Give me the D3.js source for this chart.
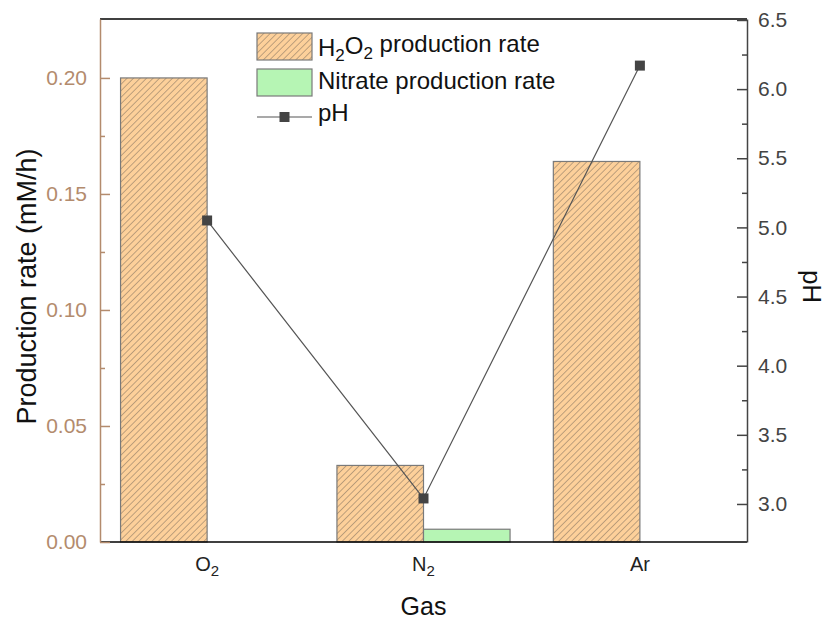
<!DOCTYPE html>
<html>
<head>
<meta charset="utf-8">
<script src="https://cdn.jsdelivr.net/npm/d3@7"></script>
<style>
  body { margin: 0; background: #fff; }
  text { font-family: Arial, "Liberation Sans", sans-serif; }
</style>
</head>
<body>
<div id="chart"></div>
<script>
// Data
const gases = ["O2", "N2", "Ar"];
const h2o2Rate = [0.200, 0.033, 0.164];
const nitrateRate = [0, 0.0055, 0];
const pHValues = [5.05, 3.04, 6.17];
const leftTicks = [0.00, 0.05, 0.10, 0.15, 0.20];
const rightTicks = [3.0, 3.5, 4.0, 4.5, 5.0, 5.5, 6.0, 6.5];
const seriesKeys = ["h2o2", "nitrate"];

// Dimensions
const W = 826, H = 621;
const margin = { top: 19, right: 79, bottom: 79, left: 100 };
const innerW = W - margin.left - margin.right;
const innerH = H - margin.top - margin.bottom;

const tan = "#b38b6d";
const darkGray = "#444";

const svg = d3.select("#chart").append("svg")
    .attr("width", W)
    .attr("height", H);

// hatch pattern for H2O2 bars
const defs = svg.append("defs");
const pat = defs.append("pattern")
    .attr("id", "hatch")
    .attr("patternUnits", "userSpaceOnUse")
    .attr("width", 4.6)
    .attr("height", 4.6)
    .attr("patternTransform", "rotate(45)");
pat.append("rect").attr("width", 4.6).attr("height", 4.6).attr("fill", "#fdd09a");
pat.append("line")
    .attr("x1", 0).attr("y1", 0).attr("x2", 0).attr("y2", 4.6)
    .attr("stroke", "#8a7862").attr("stroke-width", 1.1);

const g = svg.append("g")
    .attr("transform", `translate(${margin.left},${margin.top})`);

// Scales
const x = d3.scaleBand()
    .domain(gases)
    .range([0, innerW])
    .paddingInner(0.2)
    .paddingOuter(0.095);

const xSub = d3.scaleBand()
    .domain(seriesKeys)
    .range([0, x.bandwidth()]);

const yLeft = d3.scaleLinear()
    .domain([0, 0.2254])
    .range([innerH, 0]);

const yRight = d3.scaleLinear()
    .domain([2.725, 6.507])
    .range([innerH, 0]);

// Bars
const rows = gases.map((gas, i) => ({ gas, h2o2: h2o2Rate[i], nitrate: nitrateRate[i] }));
const fills = { h2o2: "url(#hatch)", nitrate: "#b6f5b4" };

g.selectAll(".grp")
    .data(rows)
    .enter().append("g")
    .attr("transform", d => `translate(${x(d.gas)},0)`)
    .selectAll("rect")
    .data(d => seriesKeys.map(k => ({ key: k, value: d[k] })))
    .enter().append("rect")
    .attr("x", d => xSub(d.key))
    .attr("y", d => yLeft(d.value))
    .attr("width", xSub.bandwidth())
    .attr("height", d => innerH - yLeft(d.value))
    .attr("fill", d => fills[d.key])
    .attr("stroke", "#7a7a7a")
    .attr("stroke-width", 1.2);

// Frame: top and bottom lines
g.append("line")
    .attr("x1", 0).attr("x2", innerW).attr("y1", 0).attr("y2", 0)
    .attr("stroke", "#000").attr("stroke-width", 1.5);
g.append("line")
    .attr("x1", 0).attr("x2", innerW).attr("y1", innerH).attr("y2", innerH)
    .attr("stroke", "#000").attr("stroke-width", 1.5);

// Left axis (minor ticks first)
const leftMinor = leftTicks.slice(0, -1).map(t => t + 0.025);
g.append("g")
    .call(d3.axisLeft(yLeft).tickValues(leftMinor).tickSize(-5).tickFormat(""))
    .call(a => a.select(".domain").remove())
    .selectAll("line").attr("stroke", tan).attr("stroke-width", 1.5);

const leftAxis = g.append("g")
    .call(d3.axisLeft(yLeft).tickValues(leftTicks).tickSizeInner(-10).tickSizeOuter(0)
        .tickPadding(13).tickFormat(d3.format(".2f")));
leftAxis.select(".domain").attr("stroke", tan).attr("stroke-width", 1.5);
leftAxis.selectAll("line").attr("stroke", tan).attr("stroke-width", 1.5);
leftAxis.selectAll("text")
    .attr("fill", tan)
    .style("font-size", "21px");

// Right axis
const rightMinor = rightTicks.slice(0, -1).map(t => t + 0.25);
g.append("g")
    .attr("transform", `translate(${innerW},0)`)
    .call(d3.axisRight(yRight).tickValues(rightMinor).tickSize(-5).tickFormat(""))
    .call(a => a.select(".domain").remove())
    .selectAll("line").attr("stroke", darkGray).attr("stroke-width", 1.5);

const rightAxis = g.append("g")
    .attr("transform", `translate(${innerW},0)`)
    .call(d3.axisRight(yRight).tickValues(rightTicks).tickSizeInner(-10).tickSizeOuter(0)
        .tickPadding(11).tickFormat(d3.format(".1f")));
rightAxis.select(".domain").attr("stroke", darkGray).attr("stroke-width", 1.5);
rightAxis.selectAll("line").attr("stroke", darkGray).attr("stroke-width", 1.5);
rightAxis.selectAll("text")
    .attr("fill", darkGray)
    .style("font-size", "21px");

// Chemical labels with subscripts (digits go below the baseline)
function addChem(sel, label, subSize) {
    const parts = label.match(/[A-Za-z]+|\d+/g);
    let lowered = false;
    parts.forEach(p => {
        const sub = /^\d+$/.test(p);
        const t = sel.append("tspan").text(p);
        if (sub) {
            t.attr("dy", "0.3em").style("font-size", subSize);
            lowered = true;
        } else if (lowered) {
            t.attr("dy", "-0.3em");
            lowered = false;
        }
    });
    return lowered;
}

g.selectAll(".xlab")
    .data(gases)
    .enter().append("text")
    .attr("class", "xlab")
    .attr("x", d => x(d) + x.bandwidth() / 2)
    .attr("y", innerH + 29)
    .attr("text-anchor", "middle")
    .attr("fill", "#222")
    .style("font-size", "20px")
    .each(function(d) { addChem(d3.select(this), d, "15px"); });

// pH line and markers
const pts = gases.map((gas, i) => ({ gas, v: pHValues[i] }));
const cx = d => x(d.gas) + x.bandwidth() / 2;

g.append("path")
    .datum(pts)
    .attr("fill", "none")
    .attr("stroke", "#555")
    .attr("stroke-width", 1.2)
    .attr("d", d3.line().x(cx).y(d => yRight(d.v)));

g.selectAll(".mk")
    .data(pts)
    .enter().append("rect")
    .attr("x", d => cx(d) - 5)
    .attr("y", d => yRight(d.v) - 5)
    .attr("width", 10)
    .attr("height", 10)
    .attr("fill", darkGray);

// Axis titles
svg.append("text")
    .attr("transform", `translate(36,${margin.top + innerH / 2 + 6}) rotate(-90)`)
    .attr("text-anchor", "middle")
    .attr("fill", "#111")
    .style("font-size", "27px")
    .text("Production rate (mM/h)");

svg.append("text")
    .attr("transform", `translate(803,${margin.top + innerH / 2 + 6}) rotate(90)`)
    .attr("text-anchor", "middle")
    .attr("fill", "#111")
    .style("font-size", "26px")
    .text("pH");

svg.append("text")
    .attr("x", margin.left + innerW / 2)
    .attr("y", 615)
    .attr("text-anchor", "middle")
    .attr("fill", "#111")
    .style("font-size", "25px")
    .text("Gas");

// Legend
const legend = svg.append("g").attr("transform", "translate(257,33)");

legend.append("rect")
    .attr("x", 0).attr("y", 0).attr("width", 55).attr("height", 27)
    .attr("fill", "url(#hatch)").attr("stroke", "#7a7a7a").attr("stroke-width", 1.2);
legend.append("rect")
    .attr("x", 0).attr("y", 36).attr("width", 55).attr("height", 27)
    .attr("fill", fills.nitrate).attr("stroke", "#7a7a7a").attr("stroke-width", 1.2);
legend.append("line")
    .attr("x1", 0).attr("x2", 55).attr("y1", 84).attr("y2", 84)
    .attr("stroke", "#555").attr("stroke-width", 1.2);
legend.append("rect")
    .attr("x", 22.5).attr("y", 79).attr("width", 10).attr("height", 10)
    .attr("fill", darkGray);

const lt1 = legend.append("text").attr("x", 61).attr("y", 23)
    .attr("fill", "#111").style("font-size", "24px");
const low = addChem(lt1, "H2O2", "17px");
lt1.append("tspan").attr("dy", low ? "-0.3em" : null).text(" production rate");

legend.append("text").attr("x", 61).attr("y", 56)
    .attr("fill", "#111").style("font-size", "24px")
    .text("Nitrate production rate");

legend.append("text").attr("x", 61).attr("y", 88)
    .attr("fill", "#111").style("font-size", "24px")
    .text("pH");
</script>
</body>
</html>
